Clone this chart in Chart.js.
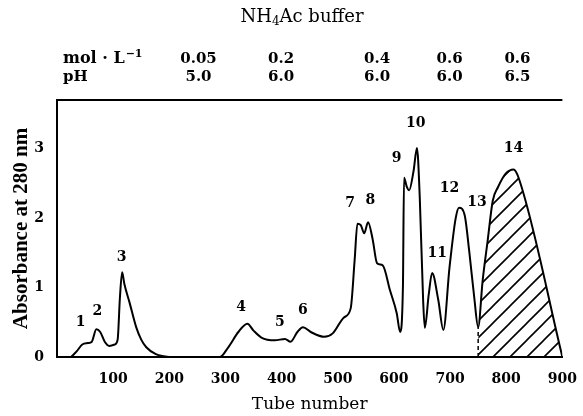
<!DOCTYPE html>
<html>
<head>
<meta charset="utf-8">
<script src="https://cdn.jsdelivr.net/npm/chart.js@4.4.1/dist/chart.umd.min.js"></script>
<style>
  html, body { margin: 0; padding: 0; background: #fff; }
  #wrap { width: 583px; height: 416px; }
</style>
</head>
<body>
<div id="wrap"><canvas id="c" width="583" height="416"></canvas></div>
<script>
// ---- data ----
const tubes = [25, 35, 45, 55, 62, 70, 77, 85, 93, 103, 108, 112, 116, 120, 129, 141, 150, 159, 176, 190, 200,
  290, 305, 323, 339, 350, 364, 388, 406, 416, 428, 438, 452, 476, 491, 511, 523, 530, 535, 541, 547, 554, 562,
  570, 580, 593, 605, 611, 616, 618, 623, 627, 635, 641, 646, 652, 655, 662, 668, 679, 688, 699, 710, 716, 726,
  734, 743, 750, 758, 767, 776, 785, 799, 813, 822, 900];
const absorbance = [0, 0.08, 0.18, 0.20, 0.22, 0.40, 0.36, 0.22, 0.16, 0.18, 0.25, 0.85, 1.22, 1.05, 0.79, 0.43, 0.25, 0.14, 0.04, 0.01, 0,
  0, 0.14, 0.36, 0.48, 0.38, 0.28, 0.24, 0.26, 0.22, 0.36, 0.43, 0.36, 0.29, 0.34, 0.57, 0.70, 1.39, 1.92, 1.90, 1.78, 1.94, 1.70,
  1.35, 1.32, 0.96, 0.63, 0.36, 1.0, 2.58, 2.45, 2.40, 2.68, 3.01, 2.30, 0.82, 0.42, 0.90, 1.21, 0.82, 0.39, 1.29, 2.00, 2.15, 2.04,
  1.53, 0.86, 0.43, 1.10, 1.68, 2.25, 2.44, 2.64, 2.70, 2.58, 0];
const hatchStart = 750;

const peakLabels = ['1','2','3','4','5','6','7','8','9','10','11','12','13','14'];
const peakTube   = [42, 72, 115, 328, 397, 438, 522, 558, 605, 639, 677, 699, 748, 813];
const peakAbs    = [0.50, 0.65, 1.43, 0.72, 0.50, 0.67, 2.21, 2.25, 2.86, 3.36, 1.49, 2.43, 2.23, 3.00];

const bufferTube = [252, 399, 570, 699, 820];
const bufferConc = ['0.05', '0.2', '0.4', '0.6', '0.6'];
const bufferPH   = ['5.0', '6.0', '6.0', '6.0', '6.5'];

const xTicks = [100, 200, 300, 400, 500, 600, 700, 800, 900];
const yTicks = [0, 1, 2, 3];

// ---- hatch pattern ----
function makeHatch() {
  const s = 17;
  const c = document.createElement('canvas');
  c.width = s; c.height = s;
  const g = c.getContext('2d');
  g.strokeStyle = '#000';
  g.lineWidth = 1.6;
  g.beginPath();
  g.moveTo(-2, s + 2); g.lineTo(s + 2, -2);
  g.moveTo(-2, 2); g.lineTo(2, -2);
  g.moveTo(s - 2, s + 2); g.lineTo(s + 2, s - 2);
  g.stroke();
  return document.getElementById('c').getContext('2d').createPattern(c, 'repeat');
}

const mainPts = tubes.map((t, i) => ({ x: t, y: absorbance[i] }));
const hatchPts = mainPts.filter(p => p.x >= hatchStart);
const startAbs = absorbance[tubes.indexOf(hatchStart)];
const dashPts = [{ x: hatchStart, y: 0 }, { x: hatchStart, y: startAbs }];

const serifBold = '"DejaVu Serif", "Liberation Serif", serif';

const annotate = {
  id: 'annotate',
  afterDatasetsDraw(chart) {
    const { ctx, chartArea, scales } = chart;
    const xs = scales.x, ys = scales.y;
    ctx.save();
    // top frame line
    ctx.strokeStyle = '#000';
    ctx.lineWidth = 2;
    ctx.beginPath();
    ctx.moveTo(chartArea.left - 1, chartArea.top);
    ctx.lineTo(chartArea.right, chartArea.top);
    ctx.stroke();

    ctx.fillStyle = '#000';
    ctx.textBaseline = 'middle';
    // peak labels
    ctx.font = 'bold 14px ' + serifBold;
    ctx.textAlign = 'center';
    peakLabels.forEach((lab, i) => {
      ctx.fillText(lab, xs.getPixelForValue(peakTube[i]), ys.getPixelForValue(peakAbs[i]));
    });

    // header rows
    const rowConc = chartArea.top - 41;
    const rowPH = chartArea.top - 23;
    ctx.font = 'bold 15px ' + serifBold;
    bufferTube.forEach((t, i) => {
      const px = xs.getPixelForValue(t);
      ctx.fillText(bufferConc[i], px, rowConc);
      ctx.fillText(bufferPH[i], px, rowPH);
    });
    ctx.textAlign = 'left';
    let x0 = chartArea.left + 6;
    ctx.font = 'bold 16px ' + serifBold;
    ctx.fillText('mol · L', x0, rowConc);
    let w = ctx.measureText('mol · L').width;
    ctx.font = 'bold 11px ' + serifBold;
    ctx.fillText('−1', x0 + w + 1, rowConc - 5);
    ctx.font = 'bold 15px ' + serifBold;
    ctx.fillText('pH', x0, rowPH);

    // buffer title
    const titleY = chartArea.top - 83;
    const big = '18px "DejaVu Serif", serif', small = '12px "DejaVu Serif", serif';
    ctx.font = big;
    const p1 = 'NH', p2 = '4', p3 = 'Ac buffer';
    const w1 = ctx.measureText(p1).width, w3 = ctx.measureText(p3).width;
    ctx.font = small;
    const w2 = ctx.measureText(p2).width;
    const total = w1 + w2 + w3;
    let tx = 302 - total / 2;
    ctx.font = big;
    ctx.fillText(p1, tx, titleY);
    ctx.font = small;
    ctx.fillText(p2, tx + w1, titleY + 5);
    ctx.font = big;
    ctx.fillText(p3, tx + w1 + w2, titleY);
    ctx.restore();
  }
};

new Chart(document.getElementById('c'), {
  type: 'line',
  data: {
    datasets: [
      {
        data: mainPts,
        borderColor: '#000',
        borderWidth: 2,
        pointRadius: 0,
        fill: false,
        cubicInterpolationMode: 'monotone',
        order: 1
      },
      {
        data: hatchPts,
        borderWidth: 0,
        borderColor: 'rgba(0,0,0,0)',
        backgroundColor: makeHatch(),
        pointRadius: 0,
        fill: 'origin',
        cubicInterpolationMode: 'monotone',
        order: 2
      },
      {
        data: dashPts,
        borderColor: '#000',
        borderWidth: 1.5,
        borderDash: [4, 3],
        pointRadius: 0,
        fill: false,
        order: 0
      }
    ]
  },
  options: {
    responsive: false,
    animation: false,
    layout: { padding: { top: 100, right: 16, left: 0, bottom: 0 } },
    plugins: { legend: { display: false }, tooltip: { enabled: false } },
    scales: {
      x: {
        type: 'linear',
        min: 0, max: 900,
        afterFit(s) { s.height = 59; },
        afterBuildTicks(s) { s.ticks = xTicks.map(v => ({ value: v })); },
        border: { color: '#000', width: 2 },
        grid: { display: false },
        ticks: {
          color: '#000',
          padding: 6,
          font: { family: serifBold, size: 14, weight: 'bold' },
          maxRotation: 0
        },
        title: {
          display: true,
          text: 'Tube number',
          color: '#000',
          font: { family: '"DejaVu Serif", serif', size: 17 },
          padding: { top: 0, bottom: 1 }
        }
      },
      y: {
        min: 0, max: 3.7,
        afterFit(s) { s.width = 57; },
        afterBuildTicks(s) { s.ticks = yTicks.map(v => ({ value: v })); },
        border: { color: '#000', width: 2 },
        grid: { display: false },
        ticks: {
          color: '#000',
          padding: 5,
          font: { family: serifBold, size: 14, weight: 'bold' }
        },
        title: {
          display: true,
          text: 'Absorbance at 280 nm',
          color: '#000',
          font: { family: '"Liberation Serif", serif', size: 21, weight: 'bold' },
          padding: { top: 9, bottom: 0 }
        }
      }
    }
  },
  plugins: [annotate]
});
</script>
</body>
</html>
